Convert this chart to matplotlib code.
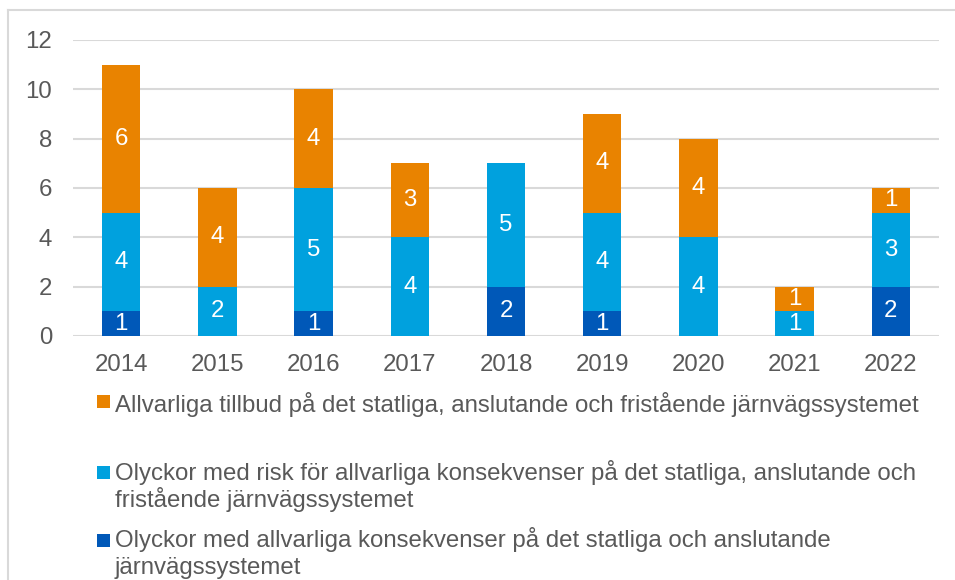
import matplotlib.pyplot as plt
from matplotlib.patches import Rectangle
from matplotlib.lines import Line2D

plt.rcParams['font.family'] = ['Liberation Sans', 'DejaVu Sans']

years = ["2014", "2015", "2016", "2017", "2018", "2019", "2020", "2021", "2022"]
# Olyckor med allvarliga konsekvenser
serious = [1, 0, 1, 0, 2, 1, 0, 0, 2]
# Olyckor med risk för allvarliga konsekvenser
risk = [4, 2, 5, 4, 5, 4, 4, 1, 3]
# Allvarliga tillbud
incidents = [6, 4, 4, 3, 0, 4, 4, 1, 1]

names = [
    "Allvarliga tillbud på det statliga, anslutande och fristående järnvägssystemet",
    "Olyckor med risk för allvarliga konsekvenser på det statliga, anslutande och\nfristående järnvägssystemet",
    "Olyckor med allvarliga konsekvenser på det statliga och anslutande\njärnvägssystemet",
]
colors = ["#E98300", "#00A1DE", "#0058B8"]

W, H = 955, 580
fig = plt.figure(figsize=(W / 100, H / 100), dpi=100)
ax = fig.add_axes([73 / W, 1 - 336 / H, (939 - 73) / W, (336 - 40) / H])

x = range(len(years))
bottoms = [0] * len(years)
text_col = "#595959"
fs = 17.3
for vals, col in [(serious, colors[2]), (risk, colors[1]), (incidents, colors[0])]:
    bars = ax.bar(x, vals, bottom=bottoms, width=0.4, color=col, zorder=3)
    for b, v in zip(bars, vals):
        if v > 0:
            ax.text(b.get_x() + b.get_width() / 2, b.get_y() + v / 2, str(v),
                    ha="center", va="center", color="white", fontsize=fs, zorder=4)
    bottoms = [a + b for a, b in zip(bottoms, vals)]

ax.set_ylim(0, 12)
ax.set_xlim(-0.5, len(years) - 0.5)
ax.set_yticks(range(0, 13, 2))
ax.set_xticks(list(x))
ax.set_xticklabels(years)
ax.tick_params(axis="both", length=0, labelsize=fs, colors=text_col)
ax.tick_params(axis="y", pad=15)
ax.tick_params(axis="x", pad=13)
ax.grid(axis="y", color="#D9D9D9", linewidth=1.5, zorder=0)
for s in ax.spines.values():
    s.set_visible(False)

# chart border (left and top only visible)
fig.add_artist(Line2D([8 / W, 8 / W], [0, 1 - 10 / H], color="#D9D9D9", linewidth=1.5))
fig.add_artist(Line2D([8 / W, 1], [1 - 10 / H, 1 - 10 / H], color="#D9D9D9", linewidth=1.5))

# legend, drawn by hand
baselines = [412, 480, 547]
sq_centers = [401, 472, 540]
for name, col, bl, sc in zip(names, colors, baselines, sq_centers):
    fig.add_artist(Rectangle((97 / W, 1 - (sc + 6.5) / H), 13 / W, 13 / H,
                             facecolor=col, edgecolor="none", transform=fig.transFigure))
    for i, line in enumerate(name.split("\n")):
        fig.text(115 / W, 1 - (bl + 27 * i) / H, line, ha="left", va="baseline",
                 fontsize=fs, color=text_col)

fig.savefig("out.png", dpi=100)
